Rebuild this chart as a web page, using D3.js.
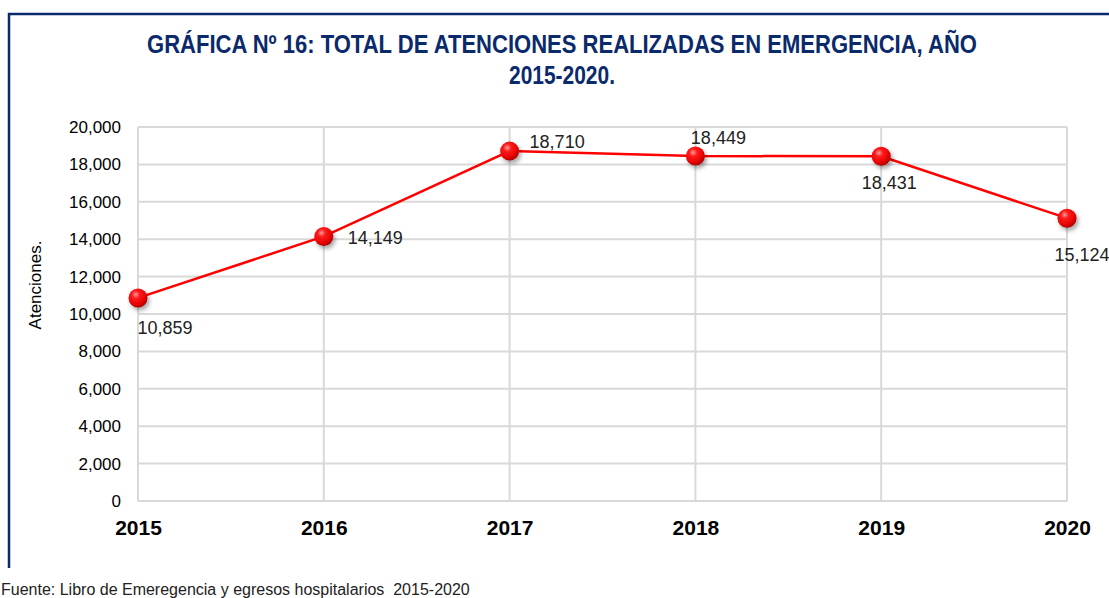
<!DOCTYPE html>
<html>
<head>
<meta charset="utf-8">
<script src="https://cdn.jsdelivr.net/npm/d3@7"></script>
<style>
  body { margin: 0; background: #fff; }
  svg { display: block; font-family: "Liberation Sans Narrow", "Arial Narrow", "Liberation Sans", sans-serif; }
</style>
</head>
<body>
<svg id="chart" width="1109" height="598"></svg>
<script>
const years = ["2015", "2016", "2017", "2018", "2019", "2020"];
const atenciones = [10859, 14149, 18710, 18449, 18431, 15124];
const yTicks = [0, 2000, 4000, 6000, 8000, 10000, 12000, 14000, 16000, 18000, 20000];

const data = years.map((y, i) => ({year: y, value: atenciones[i]}));

// label offsets from each point (layout only)
const labelOff = [
  {dx: 27, dy: 36, anchor: "middle"},
  {dx: 24, dy: 8, anchor: "start"},
  {dx: 20, dy: -3, anchor: "start"},
  {dx: 23, dy: -12, anchor: "middle"},
  {dx: 8, dy: 33, anchor: "middle"},
  {dx: 15, dy: 43, anchor: "middle"},
];

const svg = d3.select("#chart"),
      margin = {top: 127, right: 42, bottom: 97, left: 138},
      innerW = 1109 - margin.left - margin.right,
      innerH = 598 - margin.top - margin.bottom;

// frame (only top and left edges visible in the original crop)
svg.append("path")
    .attr("d", "M9,568 V14 H1109")
    .attr("fill", "none")
    .attr("stroke", "#0b2a6b")
    .attr("stroke-width", 2.5);

const defs = svg.append("defs");
const grad = defs.append("radialGradient")
    .attr("id", "ball").attr("cx", "38%").attr("cy", "32%").attr("r", "70%");
grad.append("stop").attr("offset", "0%").attr("stop-color", "#ff9a9a");
grad.append("stop").attr("offset", "30%").attr("stop-color", "#ff1a1a");
grad.append("stop").attr("offset", "80%").attr("stop-color", "#e00000");
grad.append("stop").attr("offset", "100%").attr("stop-color", "#a00000");
const shadow = defs.append("filter").attr("id", "shadow")
    .attr("x", "-50%").attr("y", "-50%").attr("width", "200%").attr("height", "200%");
shadow.append("feDropShadow").attr("dx", 2).attr("dy", 3).attr("stdDeviation", 2)
    .attr("flood-color", "#000").attr("flood-opacity", 0.35);

const xScale = d3.scalePoint().domain(years).range([0, innerW]);
const yScale = d3.scaleLinear().domain([0, 20000]).range([innerH, 0]);

const g = svg.append("g").attr("transform", `translate(${margin.left}, ${margin.top})`);

// horizontal grid
g.append("g")
    .selectAll("line")
    .data(yTicks)
    .join("line")
    .attr("x1", 0).attr("x2", innerW)
    .attr("y1", d => yScale(d)).attr("y2", d => yScale(d))
    .attr("stroke", "#d9d9d9").attr("stroke-width", 2);

// vertical grid
g.append("g")
    .selectAll("line")
    .data(years)
    .join("line")
    .attr("x1", d => xScale(d)).attr("x2", d => xScale(d))
    .attr("y1", 0).attr("y2", innerH)
    .attr("stroke", "#d9d9d9").attr("stroke-width", 2);

// y axis labels
const yAxis = g.append("g")
    .call(d3.axisLeft(yScale).tickValues(yTicks).tickFormat(d3.format(",")).tickSize(0).tickPadding(17));
yAxis.select(".domain").remove();
yAxis.selectAll("text")
    .attr("font-size", 17).attr("fill", "#000")
    .attr("font-family", "\"Liberation Sans Narrow\", \"Arial Narrow\", sans-serif");

// x axis labels
const xAxis = g.append("g")
    .attr("transform", `translate(0, ${innerH})`)
    .call(d3.axisBottom(xScale).tickSize(0).tickPadding(19));
xAxis.select(".domain").remove();
xAxis.selectAll("text")
    .attr("font-size", 21).attr("font-weight", "bold").attr("fill", "#000")
    .attr("font-family", "\"Liberation Sans Narrow\", \"Arial Narrow\", sans-serif");

// line
g.append("path")
    .datum(data)
    .attr("fill", "none")
    .attr("stroke", "#ff0000")
    .attr("stroke-width", 2.5)
    .attr("d", d3.line().x(d => xScale(d.year)).y(d => yScale(d.value)));

// markers
g.selectAll("circle.pt")
    .data(data)
    .join("circle")
    .attr("class", "pt")
    .attr("cx", d => xScale(d.year))
    .attr("cy", d => yScale(d.value))
    .attr("r", 9.5)
    .attr("fill", "url(#ball)")
    .attr("filter", "url(#shadow)");

// value labels
g.selectAll("text.lbl")
    .data(data)
    .join("text")
    .attr("class", "lbl")
    .attr("x", (d, i) => xScale(d.year) + labelOff[i].dx)
    .attr("y", (d, i) => yScale(d.value) + labelOff[i].dy)
    .attr("text-anchor", (d, i) => labelOff[i].anchor)
    .attr("font-size", 18)
    .attr("fill", "#222")
    .text(d => d3.format(",")(d.value));

// title
svg.append("text")
    .attr("x", 562).attr("y", 53)
    .attr("text-anchor", "middle")
    .attr("textLength", 830).attr("lengthAdjust", "spacingAndGlyphs")
    .attr("font-size", 25).attr("font-weight", "bold").attr("fill", "#0b2a6b")
    .text("GRÁFICA Nº 16: TOTAL DE ATENCIONES REALIZADAS EN EMERGENCIA, AÑO");
svg.append("text")
    .attr("x", 562).attr("y", 84)
    .attr("text-anchor", "middle")
    .attr("textLength", 106).attr("lengthAdjust", "spacingAndGlyphs")
    .attr("font-size", 25).attr("font-weight", "bold").attr("fill", "#0b2a6b")
    .text("2015-2020.");

// y axis title
svg.append("text")
    .attr("transform", "translate(41, 285) rotate(-90)")
    .attr("text-anchor", "middle")
    .attr("font-size", 17).attr("fill", "#000")
    .text("Atenciones.");

// source note
svg.append("text")
    .attr("x", 1).attr("y", 595)
    .attr("font-size", 16).attr("fill", "#222")
    .attr("xml:space", "preserve")
    .text("Fuente: Libro de Emeregencia y egresos hospitalarios  2015-2020");
</script>
</body>
</html>
